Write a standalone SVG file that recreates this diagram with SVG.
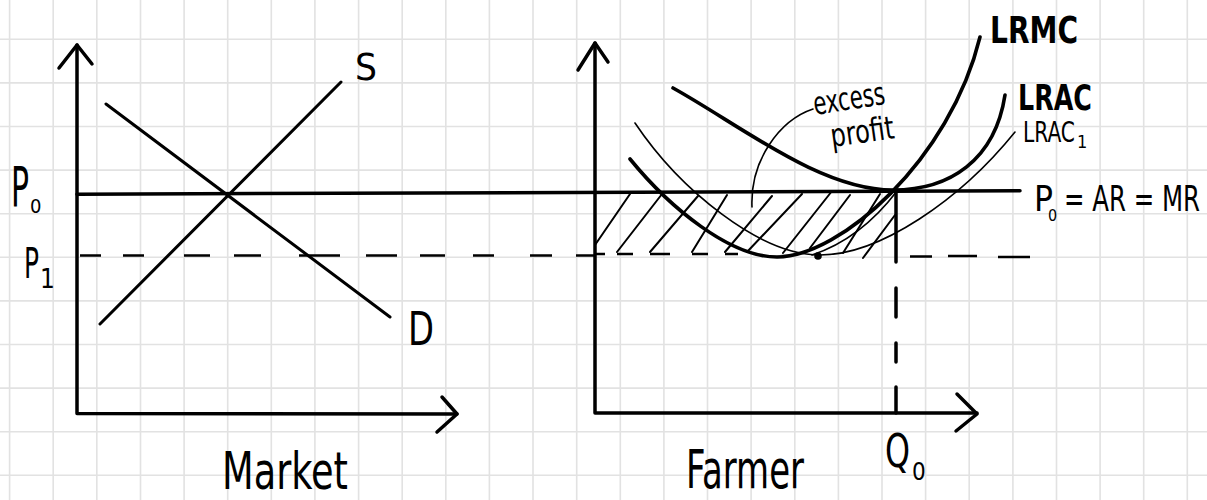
<svg xmlns="http://www.w3.org/2000/svg" width="1207" height="500" viewBox="0 0 1207 500">
<style>
.grid{stroke:#e2e2e2;stroke-width:1.6;fill:none}
.ax{stroke:#000;stroke-width:3.5;fill:none;stroke-linecap:round;stroke-linejoin:round}
.thick{stroke:#000;stroke-width:3.6;fill:none;stroke-linecap:round}
.med{stroke:#000;stroke-width:3;fill:none;stroke-linecap:round}
.thin{stroke:#000;stroke-width:1.6;fill:none;stroke-linecap:round}
.hatch{stroke:#000;stroke-width:2;fill:none;stroke-linecap:round}
.dash{stroke:#000;stroke-width:2.6;fill:none;stroke-linecap:butt}
text{font-family:"Liberation Sans Narrow","DejaVu Sans Condensed","Liberation Sans",sans-serif;fill:#000}
.b{font-weight:bold}
</style>
<rect width="1207" height="500" fill="#fff"/>
<g id="grid">
<path class="grid" d="M9.6 0V500M53.2 0V500M96.8 0V500M140.5 0V500M184.1 0V500M227.7 0V500M271.3 0V500M314.9 0V500M358.6 0V500M402.2 0V500M445.8 0V500M489.4 0V500M533 0V500M576.7 0V500M620.3 0V500M663.9 0V500M707.5 0V500M751.1 0V500M794.8 0V500M838.4 0V500M882 0V500M925.6 0V500M969.2 0V500M1012.9 0V500M1056.5 0V500M1100.1 0V500M1143.7 0V500M1187.3 0V500M0 39.3H1207M0 82.9H1207M0 126.5H1207M0 170.1H1207M0 213.7H1207M0 257.3H1207M0 300.9H1207M0 344.5H1207M0 388.1H1207M0 431.7H1207M0 475.3H1207"/>
</g>
<g id="market-axes">
<path class="ax" d="M77 45V413.5L457 414"/>
<path class="ax" d="M59 68L77 45L92 64"/>
<path class="ax" d="M442 397L457 414L437 432"/>
</g>
<g id="demand">
<path class="med" d="M106 104L390 317"/>
<text x="408" y="345" font-size="46" textLength="26" lengthAdjust="spacingAndGlyphs">D</text>
</g>
<g id="supply">
<path class="med" d="M100 324L341 82"/>
<text x="355" y="80" font-size="38" textLength="22" lengthAdjust="spacingAndGlyphs">S</text>
</g>
<g id="farmer-axes">
<path class="ax" d="M595 43V413H977"/>
<path class="ax" d="M578 70L595 43L608 62"/>
<path class="ax" d="M957 394L977 414L956 431"/>
</g>
<g id="excess-profit-area">
<path class="hatch" d="M595 245L630 194M617 252L662 194M650 252L698 196M692 252L727 195M725 252L772 196M747 252L802 194M783 253L832 191M810 248L850 195M843 253L880 194M863 258L895 215"/>
<path class="ax" d="M896 192V262"/>
</g>
<g id="lrac1">
<path class="thin" d="M635 123C680 190 760 255 820 255C880 255 960 200 1015 132"/>
<path class="thin" d="M812 255C842 245 872 224 897 191"/>
<circle cx="818" cy="256" r="3.8" fill="#000"/>
<text x="1023" y="142" font-size="28"><tspan textLength="52" lengthAdjust="spacingAndGlyphs">LRAC</tspan><tspan x="1077" y="148" font-size="18">1</tspan></text>
</g>
<g id="lrac">
<path class="thick" d="M673 88C740 125 820 190 893 190C950 190 995 160 1005 95"/>
<text class="b" x="1018" y="110" font-size="35" textLength="74" lengthAdjust="spacingAndGlyphs">LRAC</text>
</g>
<g id="lrmc">
<path class="thick" d="M630 159C670 208 730 257 777 257C840 257 950 160 980 37"/>
<text class="b" x="990" y="43" font-size="37" textLength="88" lengthAdjust="spacingAndGlyphs">LRMC</text>
</g>
<g id="connectors">
<path class="ax" d="M77 194.3L1020 190.7"/>
<path class="dash" d="M80 255.5H101M123 255.5H144M184 255.5H210M234 255.5H261M299 255.5H340M366 255.5H397M420 255.5H445M473 255.5H494M530 255.5H552M576 255.5H595M595 254H605M617 254H633M650 254H670M692 254H708M725 254H738M910 256.5H932M948 256H977M998 257H1030"/>
<path class="ax" d="M896 288V317M896 343V362M896 387V413"/>
<path class="thin" stroke-width="1.8" d="M813 109C780 120 750 160 752 207"/>
</g>
<g id="labels">
<text x="11" y="206" font-size="56"><tspan textLength="18" lengthAdjust="spacingAndGlyphs">P</tspan><tspan x="30" y="213" font-size="20">0</tspan></text>
<text x="24" y="278" font-size="42"><tspan textLength="15" lengthAdjust="spacingAndGlyphs">P</tspan><tspan x="40" y="288" font-size="26">1</tspan></text>
<text x="1034" y="211" font-size="36"><tspan textLength="19" lengthAdjust="spacingAndGlyphs">P</tspan><tspan x="1048" y="221" font-size="16">0</tspan><tspan x="1064" y="211" textLength="136" lengthAdjust="spacingAndGlyphs">= AR = MR</tspan></text>
<text x="815" y="115" font-size="32" textLength="72" lengthAdjust="spacingAndGlyphs" transform="rotate(-9 815 115)">excess</text>
<text x="832" y="147" font-size="32" textLength="64" lengthAdjust="spacingAndGlyphs" transform="rotate(-8 832 147)">profit</text>
<text x="885" y="467" font-size="46"><tspan textLength="25" lengthAdjust="spacingAndGlyphs">Q</tspan><tspan x="912" y="480" font-size="24">0</tspan></text>
<text x="222" y="489" font-size="52" textLength="126" lengthAdjust="spacingAndGlyphs">Market</text>
<text x="686" y="488" font-size="54" textLength="118" lengthAdjust="spacingAndGlyphs">Farmer</text>
</g>
</svg>
